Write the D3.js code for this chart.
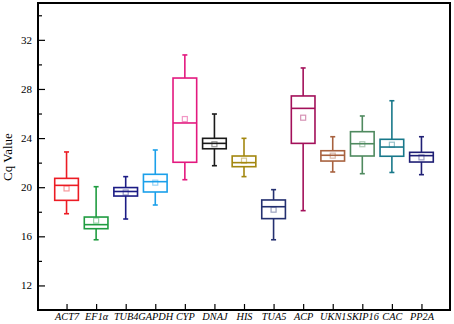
<!DOCTYPE html>
<html>
<head>
<meta charset="utf-8">
<script src="https://cdn.jsdelivr.net/npm/d3@7"></script>
<style>
  body { margin: 0; background: #fff; }
  text { font-family: "Liberation Serif", "Times New Roman", serif; }
</style>
</head>
<body>
<div id="chart"></div>
<script>
// data (Cq values)
var genes = ["ACT7", "EF1α", "TUB4", "GAPDH", "CYP", "DNAJ", "HIS", "TUA5", "ACP", "UKN1", "SKIP16", "CAC", "PP2A"];
var whiskerLow  = [17.84, 15.72, 17.41, 18.55, 20.61, 21.75, 20.86, 15.72, 18.09, 21.24, 21.10, 21.20, 21.02];
var q1          = [18.93, 16.62, 19.28, 19.61, 22.03, 23.13, 21.67, 17.44, 23.57, 22.13, 22.54, 22.52, 22.05];
var medians     = [20.15, 16.95, 19.65, 20.45, 25.23, 23.57, 22.00, 18.41, 26.42, 22.60, 23.54, 23.27, 22.57];
var q3          = [20.72, 17.57, 19.97, 21.05, 28.89, 23.98, 22.54, 18.96, 27.43, 22.97, 24.52, 23.90, 22.84];
var whiskerHigh = [22.87, 20.04, 20.86, 23.03, 30.77, 25.96, 23.98, 19.80, 29.71, 24.11, 25.80, 27.04, 24.11];
var means       = [19.90, 17.28, 19.57, 20.37, 25.55, 23.50, 22.16, 18.17, 25.66, 22.57, 23.50, 23.46, 22.43];
var colors = ["#ec1c24", "#1f9c40", "#1c1c85", "#1ba0ea", "#e3197f", "#1a1a1a", "#a3870f",
              "#243070", "#a3105a", "#a8623f", "#4f8a5f", "#18788a", "#1f1f75"];
var majorTicks = [12, 16, 20, 24, 28, 32];
var minorTicks = [14, 18, 22, 26, 30, 34];

var W = 454, H = 324;
var margin = { top: 3, right: 4, bottom: 14, left: 38 },
  width = W - margin.left - margin.right,
  height = H - margin.top - margin.bottom;

var svg = d3.select("#chart")
  .append("svg")
  .attr("width", W)
  .attr("height", H)
  .append("g")
  .attr("transform", "translate(" + margin.left + "," + margin.top + ")");

var x = d3.scalePoint().domain(genes).range([0, width]).padding(0.965);
var y = d3.scaleLinear().domain([10, 35]).range([height, 0]);

var step = x.step();
var boxW = step * 0.8;
var capW = 5;

// Y axis, ticks pointing inward
var yAxis = svg.append("g")
  .call(d3.axisLeft(y).tickValues(majorTicks).tickSizeInner(-7).tickSizeOuter(0).tickPadding(6));
yAxis.select(".domain").remove();
yAxis.selectAll("line").attr("stroke", "#000").attr("stroke-width", 1.2);
yAxis.selectAll("text").style("font-size", "11px").attr("fill", "#000");

var yMinor = svg.append("g")
  .call(d3.axisLeft(y).tickValues(minorTicks).tickSizeInner(-4).tickSizeOuter(0).tickFormat(""));
yMinor.select(".domain").remove();
yMinor.selectAll("line").attr("stroke", "#000").attr("stroke-width", 1.2);

// X axis
var xAxis = svg.append("g")
  .attr("transform", "translate(0," + height + ")")
  .call(d3.axisBottom(x).tickSizeInner(-6).tickSizeOuter(0).tickPadding(3));
xAxis.select(".domain").remove();
xAxis.selectAll("line").attr("stroke", "#000").attr("stroke-width", 1.2);
xAxis.selectAll("text")
  .style("font-size", "10.3px")
  .style("font-style", "italic")
  .attr("fill", "#000");

// Y label
svg.append("text")
  .attr("transform", "rotate(-90)")
  .attr("x", -(157 - margin.top))
  .attr("y", -margin.left + 12)
  .style("text-anchor", "middle")
  .style("font-size", "13px")
  .text("Cq Value");

// boxes
var boxes = svg.selectAll(".box")
  .data(genes)
  .enter()
  .append("g")
  .attr("class", "box")
  .attr("transform", function (d) { return "translate(" + x(d) + ",0)"; });

boxes.append("line")
  .attr("y1", function (d, i) { return y(whiskerLow[i]); })
  .attr("y2", function (d, i) { return y(q1[i]); });
boxes.append("line")
  .attr("y1", function (d, i) { return y(q3[i]); })
  .attr("y2", function (d, i) { return y(whiskerHigh[i]); });
boxes.append("line")
  .attr("x1", -capW / 2).attr("x2", capW / 2)
  .attr("y1", function (d, i) { return y(whiskerLow[i]); })
  .attr("y2", function (d, i) { return y(whiskerLow[i]); });
boxes.append("line")
  .attr("x1", -capW / 2).attr("x2", capW / 2)
  .attr("y1", function (d, i) { return y(whiskerHigh[i]); })
  .attr("y2", function (d, i) { return y(whiskerHigh[i]); });
boxes.append("rect")
  .attr("x", -boxW / 2)
  .attr("width", boxW)
  .attr("y", function (d, i) { return y(q3[i]); })
  .attr("height", function (d, i) { return y(q1[i]) - y(q3[i]); })
  .attr("fill", "none");
boxes.append("line")
  .attr("x1", -boxW / 2).attr("x2", boxW / 2)
  .attr("y1", function (d, i) { return y(medians[i]); })
  .attr("y2", function (d, i) { return y(medians[i]); });
boxes.selectAll("line, rect")
  .attr("stroke", function () { return colors[genes.indexOf(d3.select(this.parentNode).datum())]; })
  .attr("stroke-width", 1.6);

// mean markers
boxes.append("rect")
  .attr("x", -2.5)
  .attr("width", 5)
  .attr("y", function (d, i) { return y(means[i]) - 2.5; })
  .attr("height", 5)
  .attr("fill", "none")
  .attr("stroke", function (d, i) { return colors[i]; })
  .attr("stroke-opacity", 0.45)
  .attr("stroke-width", 1.2);

// frame
svg.append("rect")
  .attr("width", width)
  .attr("height", height)
  .attr("fill", "none")
  .attr("stroke", "#000")
  .attr("stroke-width", 2);
</script>
</body>
</html>
